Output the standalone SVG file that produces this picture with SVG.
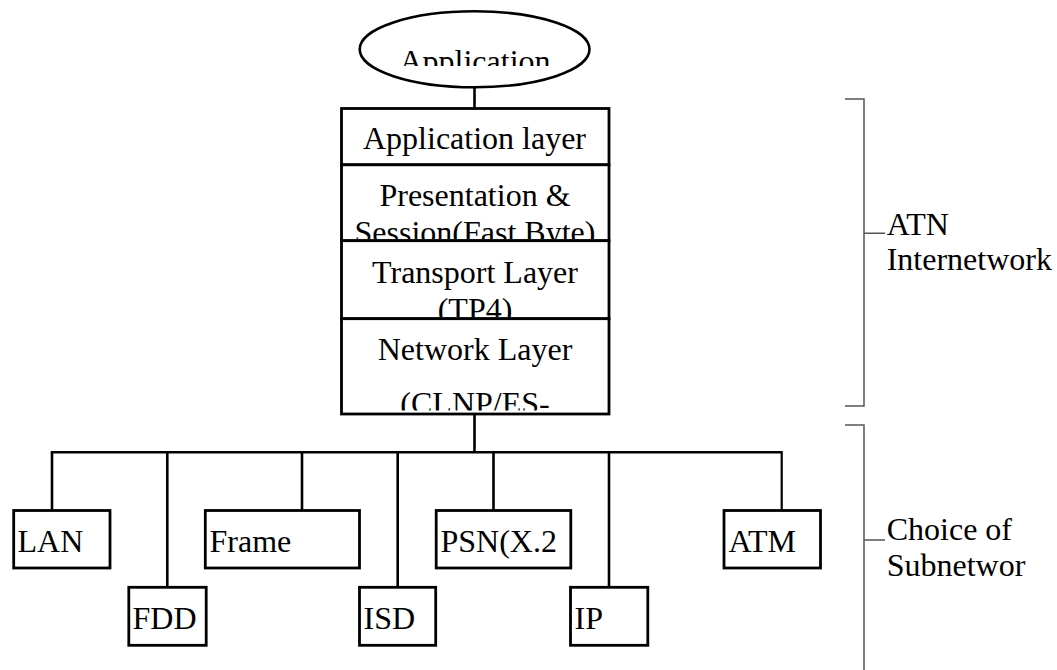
<svg xmlns="http://www.w3.org/2000/svg" width="1057" height="670" viewBox="0 0 1057 670" font-family="'Liberation Serif', 'Times New Roman', serif">
  <style>
    .box { fill: #fff; stroke: #000; stroke-width: 2.8; }
    .wire { fill: none; stroke: #000; stroke-width: 2.6; }
    .brace { fill: none; stroke: #555; stroke-width: 1.5; }
    .lbl { font-family: 'Liberation Serif', 'Times New Roman', serif; font-size: 32px; fill: #000; }
    .mid { text-anchor: middle; }
  </style>
  <defs>
    <clipPath id="clipApp"><rect x="340" y="12" width="270" height="54"/></clipPath>
    <clipPath id="clipPres"><rect x="343" y="166" width="264" height="73"/></clipPath>
    <clipPath id="clipTrans"><rect x="343" y="242" width="264" height="75"/></clipPath>
    <clipPath id="clipNet"><rect x="343" y="320" width="264" height="90.5"/></clipPath>
    <clipPath id="clipAtn"><rect x="880" y="200" width="177" height="70"/></clipPath>
    <clipPath id="clipSub"><rect x="880" y="505" width="177" height="71"/></clipPath>
  </defs>

  <!-- connectors -->
  <g id="connectors">
    <line class="wire" x1="474.5" y1="87" x2="474.5" y2="108"/>
    <line class="wire" x1="474.5" y1="414" x2="474.5" y2="452.3"/>
    <line class="wire" x1="50.7" y1="452.3" x2="782.7" y2="452.3"/>
    <line class="wire" x1="52" y1="452.3" x2="52" y2="510.5"/>
    <line class="wire" x1="167.3" y1="452.3" x2="167.3" y2="587.3"/>
    <line class="wire" x1="302" y1="452.3" x2="302" y2="510.5"/>
    <line class="wire" x1="397.7" y1="452.3" x2="397.7" y2="587.3"/>
    <line class="wire" x1="493.5" y1="452.3" x2="493.5" y2="510.5"/>
    <line class="wire" x1="609" y1="452.3" x2="609" y2="587.3"/>
    <line class="wire" x1="781.7" y1="452.3" x2="781.7" y2="510.5" style="stroke-width:2.2"/>
  </g>

  <!-- top application ellipse -->
  <g id="application">
    <ellipse cx="474.6" cy="49.3" rx="114.9" ry="38" fill="#fff" stroke="#000" stroke-width="2.6"/>
    <text class="lbl mid" x="475" y="72" clip-path="url(#clipApp)">Application</text>
  </g>

  <!-- protocol stack -->
  <g id="application-layer">
    <rect class="box" x="341.5" y="108.5" width="267.5" height="56.3"/>
    <text class="lbl mid" x="474.5" y="148.5">Application layer</text>
  </g>
  <g id="presentation-session">
    <rect class="box" x="341.5" y="164.8" width="267.5" height="75.9"/>
    <g clip-path="url(#clipPres)">
      <text class="lbl mid" x="475" y="205.5">Presentation &amp;</text>
      <text class="lbl mid" x="475" y="242.5">Session(Fast Byte)</text>
    </g>
  </g>
  <g id="transport-layer">
    <rect class="box" x="341.5" y="240.7" width="267.5" height="78"/>
    <g clip-path="url(#clipTrans)">
      <text class="lbl mid" x="475" y="283">Transport Layer</text>
      <text class="lbl mid" x="475" y="320">(TP4)</text>
    </g>
  </g>
  <g id="network-layer">
    <rect class="box" x="341.5" y="318.7" width="267.5" height="95.3"/>
    <g clip-path="url(#clipNet)">
      <text class="lbl mid" x="475" y="359.5">Network Layer</text>
      <text class="lbl mid" x="475" y="413.5">(CLNP/ES-</text>
    </g>
  </g>

  <!-- subnetworks -->
  <g id="lan">
    <rect class="box" x="13.7" y="510.5" width="96.3" height="57.5"/>
    <text class="lbl" x="17.5" y="552">LAN</text>
  </g>
  <g id="fdd">
    <rect class="box" x="128.8" y="587.3" width="77.4" height="58"/>
    <text class="lbl" x="132.5" y="629">FDD</text>
  </g>
  <g id="frame">
    <rect class="box" x="205.3" y="510.5" width="154.2" height="57.5"/>
    <text class="lbl" x="209.5" y="552">Frame</text>
  </g>
  <g id="isd">
    <rect class="box" x="359.5" y="587.3" width="76.2" height="58"/>
    <text class="lbl" x="363.5" y="629">ISD</text>
  </g>
  <g id="psn">
    <rect class="box" x="436.2" y="510.5" width="134.6" height="57.5"/>
    <text class="lbl" x="440.5" y="552">PSN(X.2</text>
  </g>
  <g id="ip">
    <rect class="box" x="570.5" y="587.3" width="77.3" height="58"/>
    <text class="lbl" x="574.5" y="629">IP</text>
  </g>
  <g id="atm">
    <rect class="box" x="724" y="510.5" width="96.5" height="57.5"/>
    <text class="lbl" x="728.5" y="552">ATM</text>
  </g>

  <!-- side brackets -->
  <g id="atn-internetwork">
    <path class="brace" d="M845 99 H864 V406 H845 M864 233.3 H885"/>
    <g clip-path="url(#clipAtn)">
      <text class="lbl" x="886.7" y="235">ATN</text>
      <text class="lbl" x="886.7" y="270">Internetwork</text>
    </g>
  </g>
  <g id="choice-of-subnetwork">
    <path class="brace" d="M845 425 H864 V672 M864 540 H885"/>
    <g clip-path="url(#clipSub)">
      <text class="lbl" x="886.7" y="540">Choice of</text>
      <text class="lbl" x="886.7" y="576">Subnetwor</text>
    </g>
  </g>
</svg>
